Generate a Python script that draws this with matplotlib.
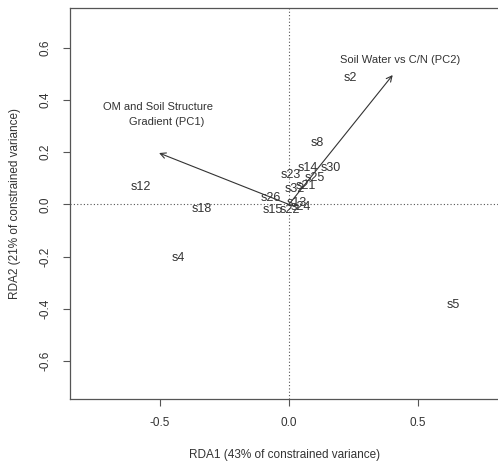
import matplotlib
matplotlib.use("Agg")
import matplotlib.pyplot as plt

plt.rcParams["font.family"] = ["Liberation Sans", "DejaVu Sans"]

# site scores (RDA1, RDA2)
sites = ["s2", "s12", "s18", "s4", "s5", "s8", "s14", "s30", "s23", "s25",
         "s32", "s21", "s26", "s13", "s15", "s22", "s24"]
rda1 = [0.236, -0.573, -0.337, -0.43, 0.635, 0.108, 0.074, 0.163, 0.008, 0.10,
        0.023, 0.066, -0.07, 0.03, -0.062, 0.002, 0.048]
rda2 = [0.485, 0.067, -0.017, -0.205, -0.385, 0.236, 0.14, 0.14, 0.113, 0.10,
        0.06, 0.07, 0.025, 0.005, -0.02, -0.02, -0.01]

# biplot arrows
arrow_names = ["Soil Water vs C/N (PC2)", "OM and Soil Structure"]
arrow_x = [0.402, -0.503]
arrow_y = [0.496, 0.197]

fig = plt.figure(figsize=(4.98, 4.63), dpi=100)
ax = fig.add_axes([0.1406, 0.1382, 0.862, 0.8445])
ax.set_xlim(-0.848, 0.815)
ax.set_ylim(-0.746, 0.753)

ax.axhline(0, color="#555555", lw=0.8, ls=(0, (1, 2)))
ax.axvline(0, color="#555555", lw=0.8, ls=(0, (1, 2)))

for x, y in zip(arrow_x, arrow_y):
    ax.annotate("", xy=(x, y), xytext=(0, 0),
                arrowprops=dict(arrowstyle="->", color="#333333", lw=0.8,
                                mutation_scale=10, shrinkA=0, shrinkB=0))

ax.text(0.43, 0.553, arrow_names[0], fontsize=8, color="#333333",
        ha="center", va="center")
ax.text(-0.507, 0.375, arrow_names[1], fontsize=8, color="#333333",
        ha="center", va="center")
ax.text(-0.473, 0.317, "Gradient (PC1)", fontsize=8, color="#333333",
        ha="center", va="center")

for s, x, y in zip(sites, rda1, rda2):
    ax.text(x, y, s, fontsize=9, color="#333333", ha="center", va="center")

ax.set_xticks([-0.5, 0.0, 0.5])
ax.set_yticks([-0.6, -0.4, -0.2, 0.0, 0.2, 0.4, 0.6])
ax.set_xticklabels(["-0.5", "0.0", "0.5"])
ax.set_yticklabels(["-0.6", "-0.4", "-0.2", "0.0", "0.2", "0.4", "0.6"],
                   rotation=90, va="center")
ax.tick_params(direction="out", length=5, width=0.8, colors="#555555",
               labelcolor="#333333", labelsize=8.5, pad=8)
for sp in ax.spines.values():
    sp.set_color("#555555")
    sp.set_linewidth(0.9)

ax.set_xlabel("RDA1 (43% of constrained variance)", fontsize=8.5,
              color="#333333", labelpad=14)
ax.set_ylabel("RDA2 (21% of constrained variance)", fontsize=8.5,
              color="#333333", labelpad=14)

fig.savefig("out.png", dpi=100)
